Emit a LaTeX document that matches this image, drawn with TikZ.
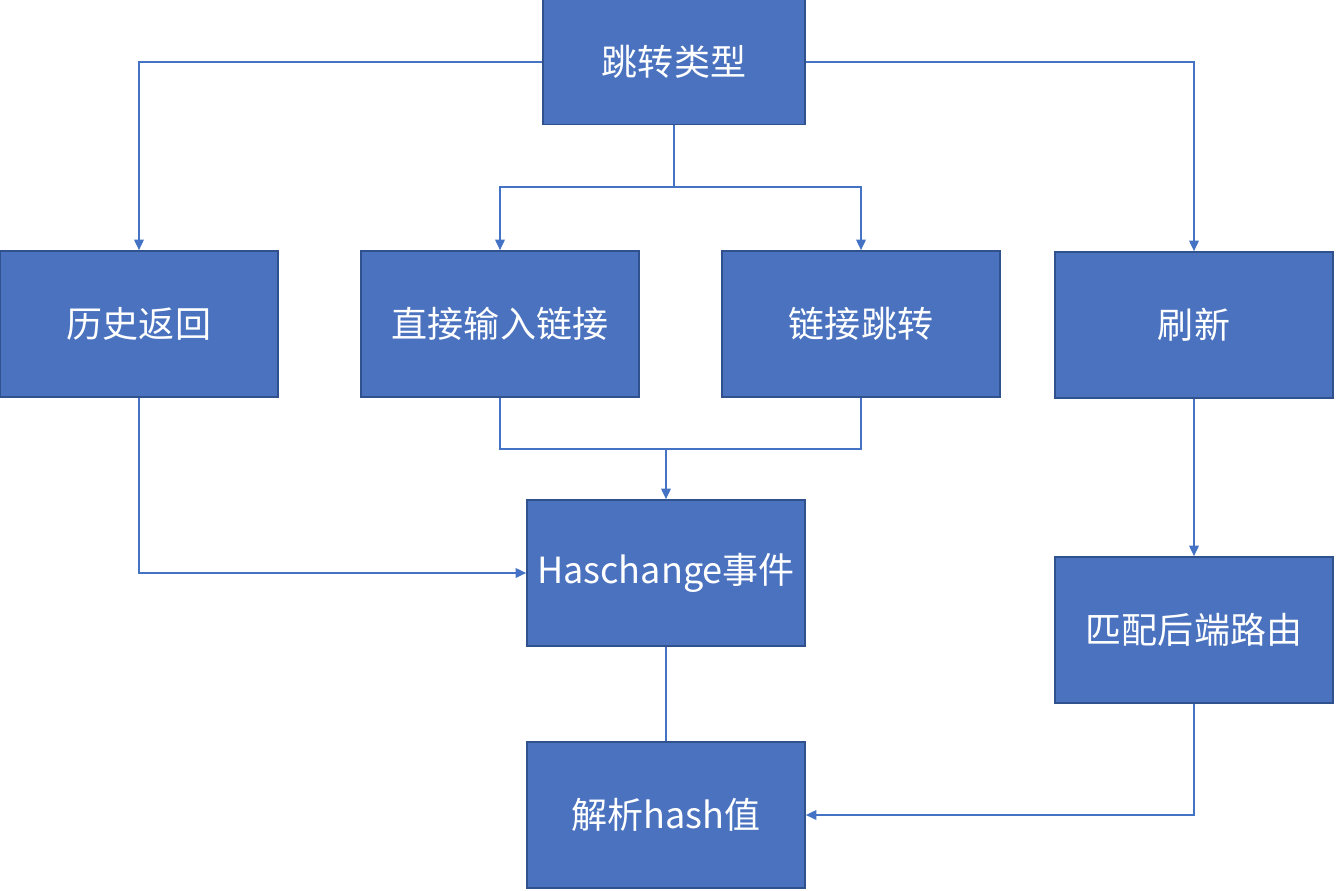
\documentclass[tikz,border=0pt]{standalone}
\usepackage{fontspec}
\setmainfont{Noto Sans CJK SC}
\usetikzlibrary{arrows.meta}
\definecolor{boxfill}{HTML}{4A72BF}
\definecolor{boxline}{HTML}{2F528F}
\definecolor{linkcol}{HTML}{4472C4}
\tikzset{
  stepbox/.style={draw=boxline,fill=boxfill,line width=1pt,text=white,
    minimum width=5.56cm,minimum height=2.92cm,inner sep=0pt,
    font=\fontsize{20.5}{24}\selectfont},
  link/.style={draw=linkcol,line width=.85pt,-{Triangle[width=5.5pt,length=6pt]}},
  plain/.style={draw=linkcol,line width=.85pt}
}
\begin{document}
\begin{tikzpicture}[x=0.02cm,y=-0.02cm]
\useasboundingbox (0,0) rectangle (1336,890);
% boxes
\node[stepbox,minimum width=5.24cm,minimum height=2.5cm] (type) at (674,62) {跳转类型};
\node[stepbox] (hist) at (139,324) {历史返回};
\node[stepbox] (direct) at (500,324) {直接输入链接};
\node[stepbox] (jump) at (861,324) {链接跳转};
\node[stepbox] (refresh) at (1194,325) {刷新};
\node[stepbox] (hash) at (666,573) {Haschange事件};
\node[stepbox] (route) at (1194,630) {匹配后端路由};
\node[stepbox] (parse) at (666,815) {解析hash值};
% connectors
\coordinate (split) at (674,187);
\coordinate (merge) at (666,449);
\draw[link] (type.west) -| (hist.north);
\draw[link] (type.east) -| (refresh.north);
\draw[plain] (type.south) -- (split);
\draw[link] (split) -| (direct.north);
\draw[link] (split) -| (jump.north);
\draw[plain] (direct.south) |- (merge) -| (jump.south);
\draw[link] (merge) -- (hash.north);
\draw[link] (hist.south) |- (hash.west);
\draw[link] (refresh.south) -- (route.north);
\draw[plain] (hash.south) -- (parse.north);
\draw[link] (route.south) |- (parse.east);
\end{tikzpicture}
\end{document}
